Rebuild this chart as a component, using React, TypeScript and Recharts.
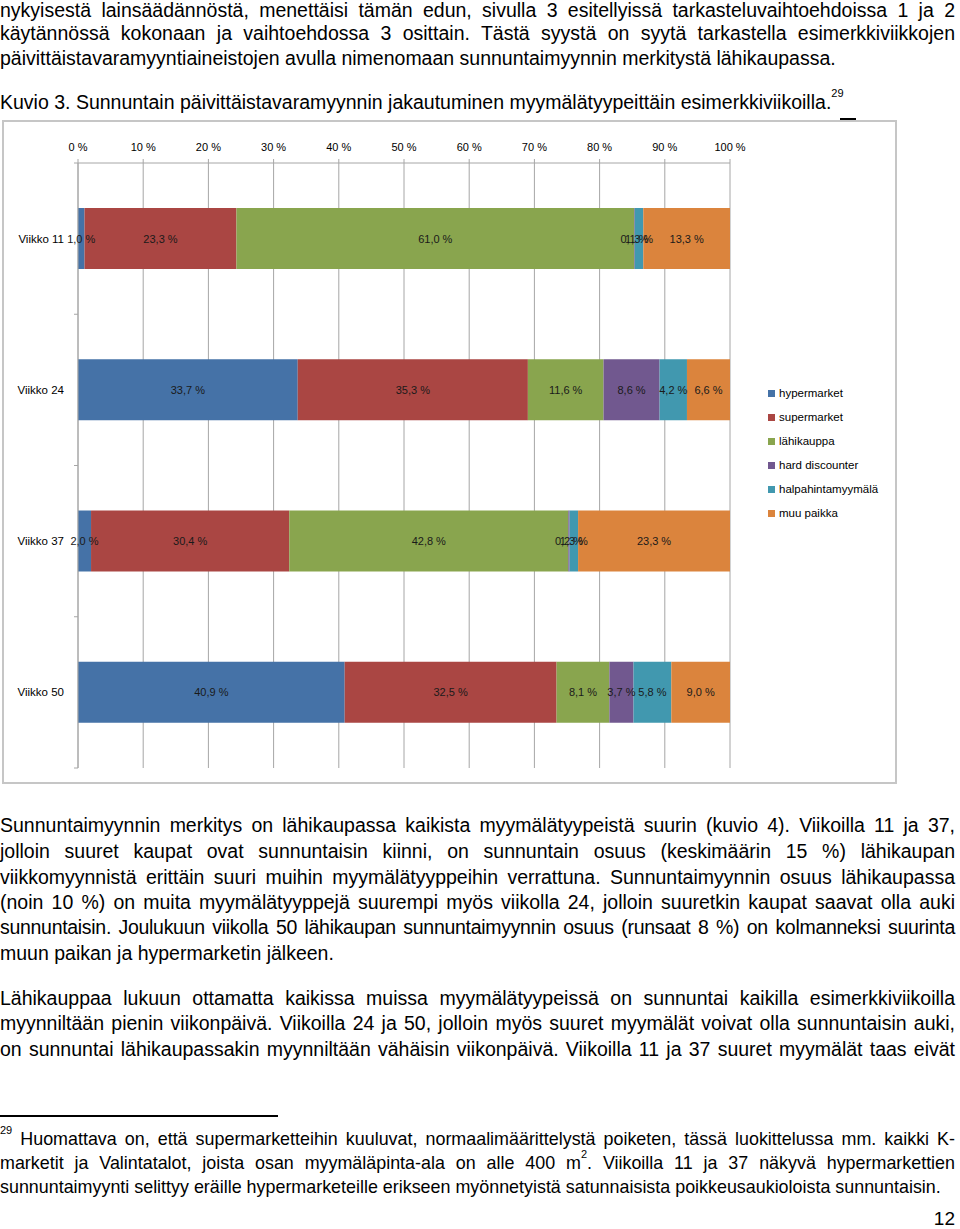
import React from 'react';
import { BarChart, Bar, XAxis, YAxis, CartesianGrid, Legend, LabelList } from 'recharts';

// ---------- data ----------
const weeks = ['Viikko 11', 'Viikko 24', 'Viikko 37', 'Viikko 50'];
const seriesNames = ['hypermarket', 'supermarket', 'lähikauppa', 'hard discounter', 'halpahintamyymälä', 'muu paikka'];
const hypermarket = [1.0, 33.7, 2.0, 40.9];
const supermarket = [23.3, 35.3, 30.4, 32.5];
const lahikauppa = [61.0, 11.6, 42.8, 8.1];
const hardDiscounter = [0.1, 8.6, 0.2, 3.7];
const halpahintamyymala = [1.3, 4.2, 1.3, 5.8];
const muuPaikka = [13.3, 6.6, 23.3, 9.0];
const xTicks = [0, 10, 20, 30, 40, 50, 60, 70, 80, 90, 100];

const seriesValues = [hypermarket, supermarket, lahikauppa, hardDiscounter, halpahintamyymala, muuPaikka];
const seriesColors = ['#4572A7', '#AA4643', '#89A54E', '#71588F', '#4198AF', '#DB843D'];
const seriesKeys = ['s0', 's1', 's2', 's3', 's4', 's5'];

const data = weeks.map((w, i) => {
  const row: Record<string, string | number> = { name: w };
  seriesKeys.forEach((k, j) => { row[k] = seriesValues[j][i]; });
  return row;
});

// ---------- layout ----------
const FONT = "'Liberation Sans', Arial, Helvetica, sans-serif";
const CHART_W = 896;
const CHART_H = 663;
const MARGIN = { top: 13, right: 36, bottom: 15, left: 6 };
const LEGEND_W = 130;
const X_AXIS_H = 30;
const Y_AXIS_W = 72;
const PLOT_H = CHART_H - MARGIN.top - X_AXIS_H - MARGIN.bottom;
const Y_TICK_MARGIN = 14;
const BODY_SIZE = 19.5;
const NOTE_SIZE = 17.9;

const fmtPct = (v: any) => `${Number(v).toFixed(1).replace('.', ',')} %`;

const YTick = (props: any) => {
  const { x, y, payload, index } = props;
  const band = PLOT_H / weeks.length;
  const ax = x + Y_TICK_MARGIN;
  return (
    <g>
      <text x={x} y={y} dy={4} textAnchor="end" fontSize={11.5} fill="#000" fontFamily={FONT}>
        {payload.value}
      </text>
      {index === 0 && <line x1={ax - 4} x2={ax} y1={y - band / 2} y2={y - band / 2} stroke="#a6a6a6" />}
      <line x1={ax - 4} x2={ax} y1={y + band / 2} y2={y + band / 2} stroke="#a6a6a6" />
    </g>
  );
};

const renderBarLabel = (props: any) => {
  const vb = props.viewBox || props;
  const x = Number(vb.x);
  const y = Number(vb.y);
  const w = Number(vb.width);
  const h = Number(vb.height);
  return (
    <text x={x + w / 2} y={y + h / 2} dy={4} textAnchor="middle" fontSize={11} fill="#1a1a1a" fontFamily={FONT}>
      {fmtPct(props.value)}
    </text>
  );
};

const renderLegend = (props: any) => {
  const { payload } = props;
  return (
    <div style={{ width: LEGEND_W }}>
      {(payload || []).map((e: any, i: number) => (
        <div key={i} style={{ height: 24, display: 'flex', alignItems: 'center', fontSize: 11.5, fontFamily: FONT, color: '#000' }}>
          <span style={{ width: 7, height: 7, background: e.color, marginRight: 4, display: 'inline-block' }} />
          {e.value}
        </div>
      ))}
    </div>
  );
};

const Line = ({ top, children, justify = true, size = BODY_SIZE, lh = 25, ls = 0 }: any) => (
  <div
    style={{
      position: 'absolute',
      left: 0,
      top,
      width: 955,
      fontSize: size,
      lineHeight: `${lh}px`,
      letterSpacing: ls,
      textAlign: justify ? 'justify' : 'left',
      textAlignLast: justify ? 'justify' : 'left',
      fontFamily: FONT,
      color: '#000',
    } as any}
  >
    {children}
  </div>
);

const Sup = ({ children }: any) => (
  <span style={{ fontSize: 11, verticalAlign: 'top', lineHeight: '11px', position: 'relative', top: -2 }}>{children}</span>
);

export default function App() {
  return (
    <div style={{ position: 'absolute', left: 0, top: 0, width: 960, height: 1229, background: '#fff', overflow: 'hidden' }}>
      <Line top={-2}>nykyisestä lainsäädännöstä, menettäisi tämän edun, sivulla 3 esitellyissä tarkasteluvaihtoehdoissa 1 ja 2</Line>
      <Line top={21}>käytännössä kokonaan ja vaihtoehdossa 3 osittain. Tästä syystä on syytä tarkastella esimerkkiviikkojen</Line>
      <Line top={46} justify={false}>päivittäistavaramyyntiaineistojen avulla nimenomaan sunnuntaimyynnin merkitystä lähikaupassa.</Line>

      <Line top={90} justify={false}>
        Kuvio 3. Sunnuntain päivittäistavaramyynnin jakautuminen myymälätyypeittäin esimerkkiviikoilla.<Sup>29</Sup>
      </Line>
      <div style={{ position: 'absolute', left: 840, top: 118, width: 16, height: 2, background: '#000' }} />

      <div style={{ position: 'absolute', left: 2, top: 120, width: 895, height: 664, border: '2px solid #c6c6c6', boxSizing: 'border-box' }} />
      <div style={{ position: 'absolute', left: 0, top: 120, width: CHART_W, height: CHART_H }}>
        <BarChart width={CHART_W} height={CHART_H} data={data} layout="vertical" margin={MARGIN}>
          <CartesianGrid horizontal={false} vertical={true} stroke="#a6a6a6" />
          <XAxis
            type="number"
            orientation="top"
            domain={[0, 100]}
            ticks={xTicks}
            interval={0}
            height={X_AXIS_H}
            tickFormatter={(v: any) => `${v} %`}
            tick={{ fontSize: 11, fill: '#000', fontFamily: FONT }}
            tickSize={4}
            tickMargin={8}
            axisLine={{ stroke: '#a6a6a6' }}
            tickLine={{ stroke: '#a6a6a6' }}
          />
          <YAxis
            type="category"
            dataKey="name"
            width={Y_AXIS_W}
            tick={<YTick />}
            tickLine={false}
            tickSize={0}
            tickMargin={Y_TICK_MARGIN}
            axisLine={{ stroke: '#a6a6a6' }}
            interval={0}
          />
          <Legend
            layout="vertical"
            align="right"
            verticalAlign="middle"
            itemSorter="dataKey"
            content={renderLegend}
            wrapperStyle={{ left: 768, top: 261, width: LEGEND_W }}
          />
          {seriesKeys.map((k, j) => (
            <Bar key={k} dataKey={k} name={seriesNames[j]} stackId="a" fill={seriesColors[j]} barSize={61} isAnimationActive={false}>
              <LabelList dataKey={k} content={renderBarLabel} />
            </Bar>
          ))}
        </BarChart>
      </div>

      <Line top={813}>Sunnuntaimyynnin merkitys on lähikaupassa kaikista myymälätyypeistä suurin (kuvio 4). Viikoilla 11 ja 37,</Line>
      <Line top={839}>jolloin suuret kaupat ovat sunnuntaisin kiinni, on sunnuntain osuus (keskimäärin 15 %) lähikaupan</Line>
      <Line top={865}>viikkomyynnistä erittäin suuri muihin myymälätyyppeihin verrattuna. Sunnuntaimyynnin osuus lähikaupassa</Line>
      <Line top={890}>(noin 10 %) on muita myymälätyyppejä suurempi myös viikolla 24, jolloin suuretkin kaupat saavat olla auki</Line>
      <Line top={915} ls={-0.3}>sunnuntaisin. Joulukuun viikolla 50 lähikaupan sunnuntaimyynnin osuus (runsaat 8 %) on kolmanneksi suurinta</Line>
      <Line top={941} justify={false}>muun paikan ja hypermarketin jälkeen.</Line>

      <Line top={986}>Lähikauppaa lukuun ottamatta kaikissa muissa myymälätyypeissä on sunnuntai kaikilla esimerkkiviikoilla</Line>
      <Line top={1011}>myynniltään pienin viikonpäivä. Viikoilla 24 ja 50, jolloin myös suuret myymälät voivat olla sunnuntaisin auki,</Line>
      <Line top={1037}>on sunnuntai lähikaupassakin myynniltään vähäisin viikonpäivä. Viikoilla 11 ja 37 suuret myymälät taas eivät</Line>

      <div style={{ position: 'absolute', left: 0, top: 1115, width: 278, height: 1.5, background: '#000' }} />
      <Line top={1127} size={NOTE_SIZE} lh={24}>
        <Sup>29</Sup> Huomattava on, että supermarketteihin kuuluvat, normaalimäärittelystä poiketen, tässä luokittelussa mm. kaikki K-
      </Line>
      <Line top={1151} size={NOTE_SIZE} lh={24}>
        marketit ja Valintatalot, joista osan myymäläpinta-ala on alle 400 m<Sup>2</Sup>. Viikoilla 11 ja 37 näkyvä hypermarkettien
      </Line>
      <Line top={1175} size={NOTE_SIZE} lh={24} justify={false}>
        sunnuntaimyynti selittyy eräille hypermarketeille erikseen myönnetyistä satunnaisista poikkeusaukioloista sunnuntaisin.
      </Line>
      <div style={{ position: 'absolute', left: 900, top: 1206, width: 55, textAlign: 'right', fontSize: 19, lineHeight: '25px', fontFamily: FONT }}>12</div>
    </div>
  );
}
